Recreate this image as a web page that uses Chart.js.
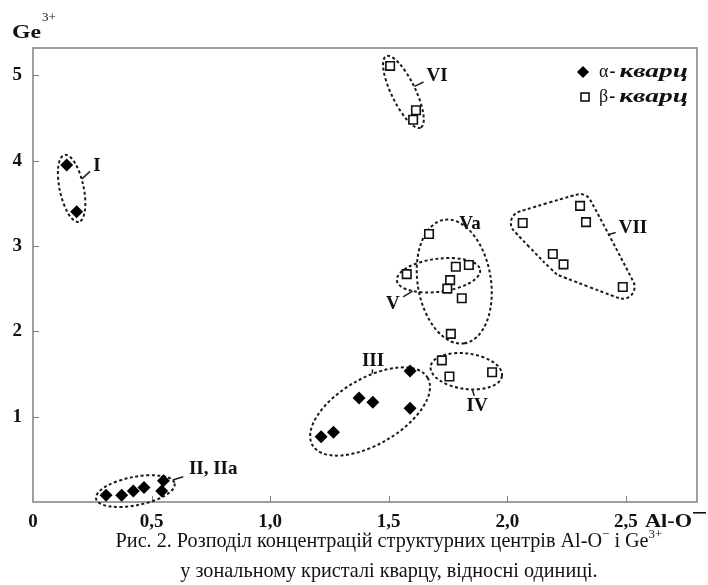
<!DOCTYPE html>
<html>
<head>
<meta charset="utf-8">
<script src="https://cdn.jsdelivr.net/npm/chart.js@4.4.0/dist/chart.umd.min.js"></script>
<style>
  html, body { margin: 0; padding: 0; background: #fff; }
  #wrap { width: 708px; height: 585px; }
</style>
</head>
<body>
<div id="wrap"><canvas id="chart"></canvas></div>
<script>
// α-кварц (filled diamonds)
const alphaX = [0.142, 0.184, 0.308, 0.374, 0.423, 0.468, 0.550, 0.543, 1.590, 1.375, 1.433, 1.590, 1.267, 1.215];
const alphaY = [3.95, 3.40, 0.08, 0.08, 0.13, 0.17, 0.25, 0.13, 1.535, 1.22, 1.17, 1.10, 0.817, 0.765];
// β-кварц (open squares)
const betaX = [1.506, 1.615, 1.603, 1.670, 1.783, 1.838, 1.576, 1.759, 1.747, 1.808, 1.762, 1.724, 1.756, 1.936, 2.065, 2.307, 2.332, 2.192, 2.237, 2.487];
const betaY = [5.11, 4.59, 4.48, 3.14, 2.757, 2.777, 2.67, 2.60, 2.50, 2.387, 1.97, 1.66, 1.47, 1.52, 3.27, 3.47, 3.28, 2.906, 2.785, 2.52];

const xTickValues = [0, 0.5, 1, 1.5, 2, 2.5];
const xTickLabels = ['0', '0,5', '1,0', '1,5', '2,0', '2,5'];
const yTickValues = [1, 2, 3, 4, 5];

// dashed outlines round groups of points
const groupNames = ['I', 'II, IIa', 'III', 'IV', 'V', 'Va', 'VI', 'VII'];
const groupSeries = [0, 0, 0, 1, 1, 1, 1, 1];
const groupMembers = [
  [0, 1],
  [2, 3, 4, 5, 6, 7],
  [8, 9, 10, 11, 12, 13],
  [11, 12, 13],
  [6, 4, 5, 7],
  [3, 4, 5, 7, 8, 9, 10],
  [0, 1, 2],
  [14, 15, 16, 17, 18, 19]
];
const groupShape = ['ellipse', 'ellipse', 'ellipse', 'ellipse', 'ellipse', 'ellipse', 'ellipse', 'hull'];
const groupLabelX = [0.27, 0.76, 1.434, 1.873, 1.518, 1.843, 1.704, 2.53];
const groupLabelY = [3.95, 0.40, 1.66, 1.14, 2.33, 3.27, 5.00, 3.22];

const serif = "'Liberation Serif', 'Times New Roman', serif";
const frameColor = '#808080';

function toPoints(xs, ys) {
  return xs.map((x, i) => ({ x: x, y: ys[i] }));
}

function ellipsePath(pts) {
  const n = pts.length;
  let mx = 0, my = 0;
  pts.forEach(p => { mx += p.x; my += p.y; });
  mx /= n; my /= n;
  let sxx = 0, syy = 0, sxy = 0;
  pts.forEach(p => {
    const dx = p.x - mx, dy = p.y - my;
    sxx += dx * dx; syy += dy * dy; sxy += dx * dy;
  });
  const th = 0.5 * Math.atan2(2 * sxy, sxx - syy);
  const ux = Math.cos(th), uy = Math.sin(th);
  const us = pts.map(p => (p.x - mx) * ux + (p.y - my) * uy);
  const vs = pts.map(p => -(p.x - mx) * uy + (p.y - my) * ux);
  const cu = (Math.max(...us) + Math.min(...us)) / 2;
  const cv = (Math.max(...vs) + Math.min(...vs)) / 2;
  const half = (Math.max(...us) - Math.min(...us)) / 2;
  const a = half + 9 + half * 0.05;
  let b = 0;
  us.forEach((u, i) => {
    const uu = u - cu, vv = vs[i] - cv;
    const k = Math.max(0.05, 1 - (uu / a) * (uu / a));
    b = Math.max(b, Math.abs(vv) / Math.sqrt(k));
  });
  b = Math.max(b + 7, 12);
  const cx = mx + cu * ux - cv * uy, cy = my + cu * uy + cv * ux;
  const path = new Path2D();
  path.ellipse(cx, cy, a, b, th, 0, Math.PI * 2);
  return { path: path, cx: cx, cy: cy };
}

function hullPath(pts, r) {
  const p = pts.slice().sort((a, b) => a.x - b.x || a.y - b.y);
  const cross = (o, a, b) => (a.x - o.x) * (b.y - o.y) - (a.y - o.y) * (b.x - o.x);
  const lower = [], upper = [];
  p.forEach(q => {
    while (lower.length >= 2 && cross(lower[lower.length - 2], lower[lower.length - 1], q) <= 0) lower.pop();
    lower.push(q);
  });
  p.slice().reverse().forEach(q => {
    while (upper.length >= 2 && cross(upper[upper.length - 2], upper[upper.length - 1], q) <= 0) upper.pop();
    upper.push(q);
  });
  upper.pop(); lower.pop();
  const hull = lower.concat(upper);
  const n = hull.length;
  let cx = 0, cy = 0;
  hull.forEach(q => { cx += q.x; cy += q.y; });
  cx /= n; cy /= n;
  // sample the rounded hull, then smooth it with a closed quadratic spline
  const ring = [];
  hull.forEach((q, i) => {
    const prev = hull[(i - 1 + n) % n], next = hull[(i + 1) % n];
    const a1 = Math.atan2(q.y - prev.y, q.x - prev.x) - Math.PI / 2;
    let a2 = Math.atan2(next.y - q.y, next.x - q.x) - Math.PI / 2;
    while (a2 < a1) a2 += Math.PI * 2;
    const steps = Math.max(1, Math.ceil((a2 - a1) / 0.35));
    for (let s = 0; s <= steps; s++) {
      const a = a1 + (a2 - a1) * s / steps;
      ring.push({ x: q.x + r * Math.cos(a), y: q.y + r * Math.sin(a) });
    }
  });
  const path = new Path2D();
  const m = ring.length;
  const mid = (p1, p2) => ({ x: (p1.x + p2.x) / 2, y: (p1.y + p2.y) / 2 });
  const start = mid(ring[m - 1], ring[0]);
  path.moveTo(start.x, start.y);
  for (let i = 0; i < m; i++) {
    const e = mid(ring[i], ring[(i + 1) % m]);
    path.quadraticCurveTo(ring[i].x, ring[i].y, e.x, e.y);
  }
  path.closePath();
  return { path: path, cx: cx, cy: cy };
}

// draw text squeezed or stretched to a given width
function fitText(ctx, text, x, y, width) {
  const w = ctx.measureText(text).width;
  ctx.save();
  ctx.translate(x, y);
  ctx.scale(width / w, 1);
  ctx.fillText(text, 0, 0);
  ctx.restore();
  return width;
}

const outlinePlugin = {
  id: 'outlines',
  beforeDatasetsDraw(chart) {
    const { ctx, chartArea: ca, scales: { x, y } } = chart;
    ctx.save();
    // frame
    ctx.strokeStyle = frameColor;
    ctx.lineWidth = 1.5;
    ctx.strokeRect(ca.left, ca.top, ca.right - ca.left, ca.bottom - ca.top);
    // inward tick marks
    ctx.lineWidth = 1;
    xTickValues.forEach(v => {
      if (v === 0) return;
      const px = Math.round(x.getPixelForValue(v)) + 0.5;
      ctx.beginPath(); ctx.moveTo(px, ca.bottom); ctx.lineTo(px, ca.bottom - 6); ctx.stroke();
    });
    yTickValues.forEach(v => {
      const py = Math.round(y.getPixelForValue(v)) + 0.5;
      ctx.beginPath(); ctx.moveTo(ca.left, py); ctx.lineTo(ca.left + 6, py); ctx.stroke();
    });

    // cluster outlines and their labels
    const series = [[alphaX, alphaY], [betaX, betaY]];
    ctx.font = 'bold 19px ' + serif;
    groupNames.forEach((name, g) => {
      const [sx, sy] = series[groupSeries[g]];
      const pts = groupMembers[g].map(i => ({ x: x.getPixelForValue(sx[i]), y: y.getPixelForValue(sy[i]) }));
      const o = groupShape[g] === 'hull' ? hullPath(pts, 12) : ellipsePath(pts);
      ctx.strokeStyle = '#1a1a1a';
      ctx.lineWidth = 2;
      ctx.setLineDash([3, 2.5]);
      ctx.stroke(o.path);
      ctx.setLineDash([]);

      const lx = x.getPixelForValue(groupLabelX[g]);
      const ly = y.getPixelForValue(groupLabelY[g]);
      let dx = lx - o.cx, dy = ly - o.cy;
      const dist = Math.hypot(dx, dy);
      dx /= dist; dy /= dist;
      let tEdge = 0;
      while (tEdge < dist && ctx.isPointInPath(o.path, o.cx + dx * tEdge, o.cy + dy * tEdge)) tEdge += 0.5;
      const hw = ctx.measureText(name).width / 2 + 3, hh = 9;
      const back = Math.min(Math.abs(dx) > 1e-6 ? hw / Math.abs(dx) : 1e9, Math.abs(dy) > 1e-6 ? hh / Math.abs(dy) : 1e9);
      const tEnd = Math.min(dist - back, tEdge + 11);
      if (tEnd > tEdge) {
        ctx.lineWidth = 1.5;
        ctx.strokeStyle = '#222';
        ctx.beginPath();
        ctx.moveTo(o.cx + dx * tEdge, o.cy + dy * tEdge);
        ctx.lineTo(o.cx + dx * tEnd, o.cy + dy * tEnd);
        ctx.stroke();
      }

      ctx.fillStyle = '#111';
      ctx.textAlign = 'center';
      ctx.textBaseline = 'middle';
      ctx.fillText(name, lx, ly + 1);
    });
    ctx.restore();
  },
  afterDraw(chart) {
    const { ctx } = chart;
    ctx.save();
    ctx.fillStyle = '#111';
    ctx.textBaseline = 'alphabetic';
    ctx.textAlign = 'left';

    // axis titles
    ctx.font = 'bold 19px ' + serif;
    fitText(ctx, 'Ge', 12, 38, 29);
    ctx.font = '13px ' + serif;
    ctx.fillText('3+', 42, 21);
    ctx.font = 'bold 19px ' + serif;
    fitText(ctx, 'Al-O', 645, 527, 47);
    ctx.fillRect(693, 512, 13, 1.6);

    // legend
    ctx.beginPath();
    ctx.moveTo(583, 66); ctx.lineTo(589, 72); ctx.lineTo(583, 78); ctx.lineTo(577, 72); ctx.closePath();
    ctx.fillStyle = '#000'; ctx.fill();
    ctx.strokeStyle = '#000'; ctx.lineWidth = 1.5;
    ctx.strokeRect(581, 93, 8, 8);
    ctx.fillStyle = '#111';
    [['α', 77], ['β', 102]].forEach(([g, by]) => {
      let px = 599;
      ctx.font = '18px ' + serif;
      ctx.fillText(g, px, by);
      px += ctx.measureText(g).width + 1;
      ctx.font = 'bold 18px ' + serif;
      ctx.fillText('-', px, by);
      px += ctx.measureText('-').width + 4;
      ctx.font = 'italic bold 19px ' + serif;
      fitText(ctx, 'кварц', px, by, 688 - px);
    });

    // caption
    const cap = [
      { t: 'Рис. 2. Розподіл концентрацій структурних центрів Al-O', s: false },
      { t: '\u2212', s: true },
      { t: ' і Ge', s: false },
      { t: '3+', s: true }
    ];
    const big = '20.2px ' + serif, small = '13px ' + serif;
    let total = 0;
    cap.forEach(seg => { ctx.font = seg.s ? small : big; total += ctx.measureText(seg.t).width; });
    let cx = 389 - total / 2;
    cap.forEach(seg => {
      ctx.font = seg.s ? small : big;
      ctx.fillText(seg.t, cx, seg.s ? 538 : 547);
      cx += ctx.measureText(seg.t).width;
    });
    ctx.font = big;
    ctx.textAlign = 'center';
    ctx.fillText('у зональному кристалі кварцу, відносні одиниці.', 389, 577);
    ctx.restore();
  }
};

new Chart(document.getElementById('chart'), {
  type: 'scatter',
  data: {
    datasets: [
      {
        label: 'α- кварц',
        data: toPoints(alphaX, alphaY),
        pointStyle: 'rectRot',
        pointRadius: 6.5,
        backgroundColor: '#000',
        borderColor: '#000',
        borderWidth: 0,
        clip: false
      },
      {
        label: 'β- кварц',
        data: toPoints(betaX, betaY),
        pointStyle: 'rect',
        pointRadius: 6,
        backgroundColor: '#fff',
        borderColor: '#111',
        borderWidth: 1.6,
        clip: false
      }
    ]
  },
  options: {
    responsive: true,
    maintainAspectRatio: false,
    animation: false,
    layout: { padding: { top: 48, right: 11, left: 0, bottom: 0 } },
    plugins: {
      legend: { display: false },
      tooltip: { enabled: false }
    },
    scales: {
      x: {
        type: 'linear',
        min: 0,
        max: 2.8,
        afterBuildTicks: scale => { scale.ticks = xTickValues.map(v => ({ value: v })); },
        afterFit: scale => { scale.height = 83; },
        ticks: {
          callback: v => xTickLabels[xTickValues.indexOf(v)],
          font: { family: serif, size: 19, weight: 'bold' },
          color: '#111',
          padding: 9,
          maxRotation: 0,
          autoSkip: false
        },
        grid: { display: false, drawTicks: false },
        border: { display: false }
      },
      y: {
        min: 0,
        max: 5.32,
        afterBuildTicks: scale => { scale.ticks = yTickValues.map(v => ({ value: v })); },
        afterFit: scale => { scale.width = 33; },
        ticks: {
          font: { family: serif, size: 19, weight: 'bold' },
          color: '#111',
          padding: 11
        },
        grid: { display: false, drawTicks: false },
        border: { display: false }
      }
    }
  },
  plugins: [outlinePlugin]
});
</script>
</body>
</html>
